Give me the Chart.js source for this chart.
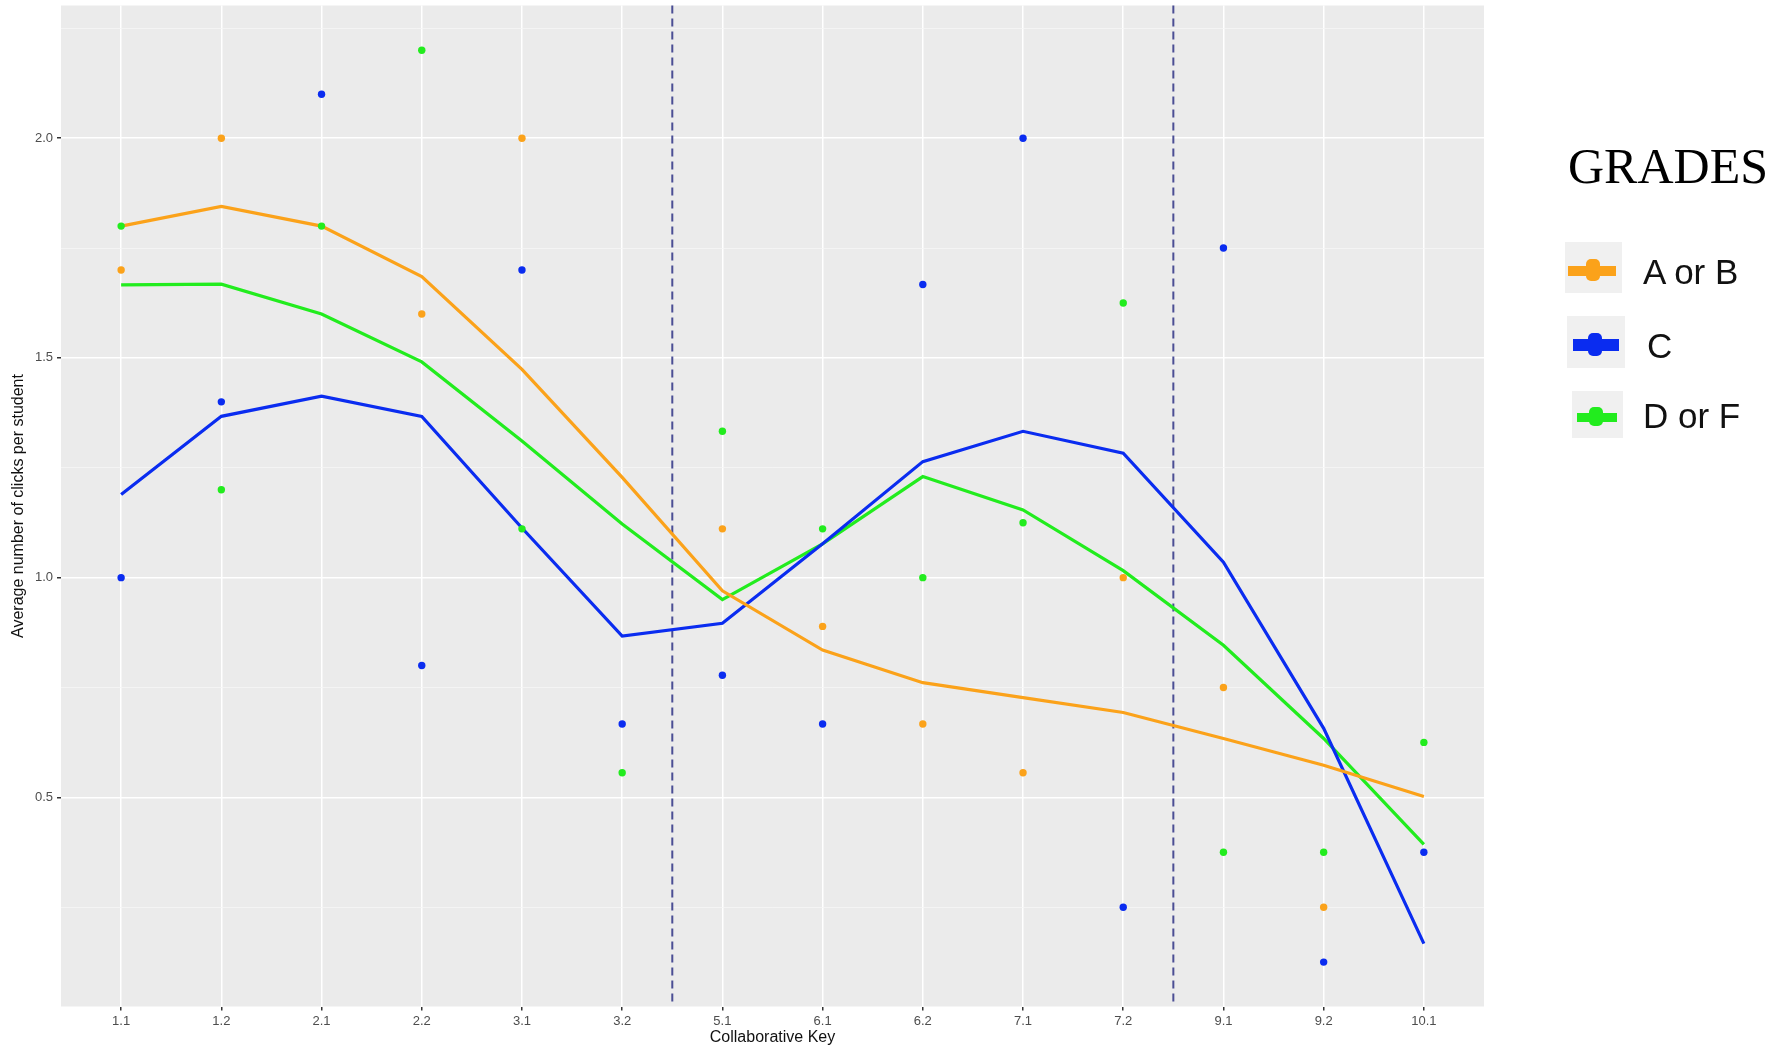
<!DOCTYPE html>
<html>
<head>
<meta charset="utf-8">
<title>Average number of clicks per student by Collaborative Key</title>
<script src="https://cdn.jsdelivr.net/npm/chart.js@4.4.1/dist/chart.umd.min.js"></script>
<style>
  body { margin: 0; background: #fff; }
  #wrap { position: relative; width: 1783px; height: 1049px; }
  #legend-title { position: absolute; left: 1568px; top: 141px; font: 50px/50px "Liberation Serif", "Times New Roman", serif; color: #000; }
  .key { position: absolute; background: #F0F0F0; }
  .key-line { position: absolute; }
  .key-dot { position: absolute; border-radius: 5px; }
  .key-text { position: absolute; font: 35px/35px "Liberation Sans", Arial, sans-serif; color: #111; white-space: nowrap; }
</style>
</head>
<body>
<div id="wrap">
  <canvas id="clicksChart"></canvas>
  <div id="legend-title">GRADES</div>
</div>
<script>
// categorias del eje x
const keys = ["1.1", "1.2", "2.1", "2.2", "3.1", "3.2", "5.1", "6.1", "6.2", "7.1", "7.2", "9.1", "9.2", "10.1"];

// lineas (promedio suavizado por grupo)
const lineAB = [1.80, 1.845, 1.80, 1.685, 1.474, 1.228, 0.970, 0.835, 0.761, 0.727, 0.693, 0.634, 0.573, 0.502];
const lineC  = [1.189, 1.367, 1.413, 1.367, 1.113, 0.867, 0.896, 1.077, 1.264, 1.333, 1.283, 1.035, 0.657, 0.167];
const lineDF = [1.666, 1.668, 1.600, 1.491, 1.311, 1.122, 0.950, 1.077, 1.230, 1.154, 1.016, 0.846, 0.634, 0.393];

// puntos observados (null = no visible)
const ptsAB = [1.70, 2.00, null, 1.60, 2.00, null, 1.111, 0.889, 0.667, 0.556, 1.00, 0.75, 0.25, null];
const ptsC  = [1.00, 1.40, 2.10, 0.80, 1.70, 0.667, 0.778, 0.667, 1.667, 2.00, 0.25, 1.75, 0.125, 0.375];
const ptsDF = [1.80, 1.20, 1.80, 2.20, 1.111, 0.556, 1.333, 1.111, 1.00, 1.125, 1.625, 0.375, 0.375, 0.625];

// eje y
const yMajor = [0.5, 1.0, 1.5, 2.0];
const yMinor = [0.25, 0.75, 1.25, 1.75, 2.25];

// lineas verticales punteadas (entre categorias)
const dividers = [5.5, 10.5];

const gradeLabels = ["A or B", "C", "D or F"];
const gradeColors = ["#FBA21A", "#0A2CF0", "#22EC1E"];

function toXY(arr) {
    return arr.map((v, i) => ({ x: i, y: v }));
}

function lineSet(label, arr, color) {
    return { label: label, data: toXY(arr), borderColor: color, backgroundColor: color,
             borderWidth: 3.2, pointRadius: 0, tension: 0, order: 1 };
}

function pointSet(label, arr, color) {
    return { label: label, data: toXY(arr), showLine: false, backgroundColor: color,
             pointBackgroundColor: color, pointBorderWidth: 0, pointRadius: 3.7, order: 0 };
}

// fondo gris del panel + lineas punteadas
const panelPlugin = {
    id: "panel",
    beforeDraw(chart) {
        const { ctx, chartArea: a } = chart;
        ctx.save();
        ctx.fillStyle = "#EBEBEB";
        ctx.fillRect(a.left, a.top, a.right - a.left, a.bottom - a.top);
        ctx.restore();
    },
    beforeDatasetsDraw(chart) {
        const { ctx, chartArea: a, scales } = chart;
        ctx.save();
        ctx.strokeStyle = "#4B4E94";
        ctx.lineWidth = 2;
        ctx.setLineDash([8, 5]);
        dividers.forEach(d => {
            const x = scales.x.getPixelForValue(d);
            ctx.beginPath();
            ctx.moveTo(x, a.top);
            ctx.lineTo(x, a.bottom);
            ctx.stroke();
        });
        ctx.restore();
    }
};

const isMajor = v => yMajor.includes(v);

new Chart(document.getElementById("clicksChart"), {
    type: "line",
    data: {
        datasets: [
            lineSet("A or B", lineAB, gradeColors[0]),
            lineSet("C", lineC, gradeColors[1]),
            lineSet("D or F", lineDF, gradeColors[2]),
            pointSet("A or B", ptsAB, gradeColors[0]),
            pointSet("C", ptsC, gradeColors[1]),
            pointSet("D or F", ptsDF, gradeColors[2])
        ]
    },
    options: {
        responsive: true,
        maintainAspectRatio: false,
        animation: false,
        layout: { padding: { top: 5.5, right: 299, left: 0, bottom: 0 } },
        plugins: { legend: { display: false }, tooltip: { enabled: false } },
        scales: {
            x: {
                type: "linear",
                min: -0.6,
                max: 13.6,
                afterBuildTicks: s => { s.ticks = keys.map((k, i) => ({ value: i })); },
                afterFit: s => { s.height = 42.5; s.paddingLeft = 0; s.paddingRight = 0; },
                border: { display: false },
                grid: { color: "#FFFFFF", lineWidth: 1.5, tickLength: 4, tickColor: "#333333" },
                ticks: {
                    autoSkip: false, maxRotation: 0, padding: 3,
                    color: "#4D4D4D", font: { family: "Liberation Sans", size: 13 },
                    callback: v => keys[v]
                },
                title: {
                    display: true, text: "Collaborative Key", color: "#111",
                    font: { family: "Liberation Sans", size: 16 }, padding: { top: 0, bottom: 2 }
                }
            },
            y: {
                min: 0.024,
                max: 2.302,
                afterBuildTicks: s => {
                    s.ticks = yMinor.concat(yMajor).sort((a, b) => a - b).map(v => ({ value: v }));
                },
                afterFit: s => { s.width = 61; s.paddingTop = 0; s.paddingBottom = 0; },
                border: { display: false },
                grid: {
                    color: c => isMajor(c.tick.value) ? "#FFFFFF" : "#F6F6F6",
                    lineWidth: c => isMajor(c.tick.value) ? 1.5 : 0.8,
                    tickLength: 4,
                    tickColor: c => isMajor(c.tick.value) ? "#333333" : "rgba(0,0,0,0)"
                },
                ticks: {
                    padding: 4, color: "#4D4D4D", font: { family: "Liberation Sans", size: 13 },
                    callback: v => isMajor(v) ? v.toFixed(1) : ""
                },
                title: {
                    display: true, text: "Average number of clicks per student", color: "#111",
                    font: { family: "Liberation Sans", size: 16 }, padding: { top: 9, bottom: 0 }
                }
            }
        }
    },
    plugins: [panelPlugin]
});

// leyenda a la derecha (cajas grises con linea y punto)
const keyBoxes = [[1565, 242, 57, 51], [1567, 316, 58, 52], [1572, 391, 51, 47]];
const keyLines = [[1568, 266, 48, 10], [1573, 339, 46, 12], [1577, 413, 40, 9]];
const keyDots  = [[1586, 259, 14, 22], [1588, 333, 14, 23], [1589, 407, 14, 19]];
const keyText  = [[1643, 254], [1647, 328], [1643, 398]];

const wrap = document.getElementById("wrap");
function addDiv(cls, r, color) {
    const d = document.createElement("div");
    d.className = cls;
    d.style.left = r[0] + "px";
    d.style.top = r[1] + "px";
    if (r[2]) d.style.width = r[2] + "px";
    if (r[3]) d.style.height = r[3] + "px";
    if (color) d.style.background = color;
    wrap.appendChild(d);
    return d;
}
gradeLabels.forEach((lbl, i) => {
    addDiv("key", keyBoxes[i]);
    addDiv("key-line", keyLines[i], gradeColors[i]);
    addDiv("key-dot", keyDots[i], gradeColors[i]);
    addDiv("key-text", keyText[i]).textContent = lbl;
});
</script>
</body>
</html>
